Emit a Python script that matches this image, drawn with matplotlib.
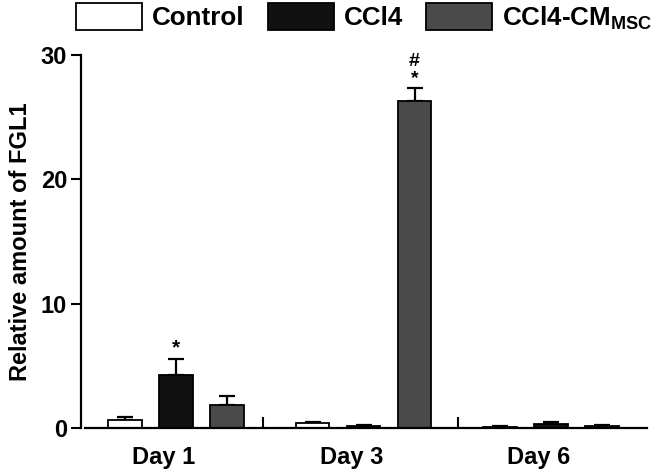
import numpy as np
import matplotlib
matplotlib.use('Agg')
import matplotlib.pyplot as plt

plt.rcParams['font.family'] = ['Liberation Sans', 'DejaVu Sans']
plt.rcParams['font.weight'] = 'bold'
plt.rcParams['mathtext.fontset'] = 'custom'
plt.rcParams['mathtext.rm'] = 'Liberation Sans:bold'
plt.rcParams['mathtext.bf'] = 'Liberation Sans:bold'

# data
days = ['Day 1', 'Day 3', 'Day 6']
groups = ['Control', 'CCl4', 'CCl4-CM$_{\\mathrm{MSC}}$']
control = [0.65, 0.37, 0.10]
control_err = [0.20, 0.08, 0.05]
ccl4 = [4.27, 0.20, 0.30]
ccl4_err = [1.29, 0.06, 0.15]
msc = [1.85, 26.3, 0.15]
msc_err = [0.73, 1.05, 0.10]
ytick_vals = [0, 10, 20, 30]

colors = ['white', '#111111', '#4a4a4a']

fig = plt.figure(figsize=(6.54, 4.74), dpi=100)
ax = fig.add_axes([81/654, 46/474, (647-81)/654, (428-55)/474])

x = np.arange(len(days))
w = 0.18
off = 0.272
handles = []
for i, (vals, errs) in enumerate([(control, control_err), (ccl4, ccl4_err), (msc, msc_err)]):
    pos = x + (i - 1) * off
    b = ax.bar(pos, vals, w, color=colors[i], edgecolor='black', linewidth=1.3,
               label=groups[i], zorder=2)
    ax.errorbar(pos, vals, yerr=[np.zeros(3), errs], fmt='none', ecolor='black',
                elinewidth=1.6, capsize=6, capthick=1.6, zorder=1)
    handles.append(b)

# significance marks
ax.text(x[0], ccl4[0] + ccl4_err[0] + 0.1, '*', ha='center', va='bottom', fontsize=15)
ax.text(x[1] + off, msc[1] + msc_err[1] + 0.1, '#\n*', ha='center', va='bottom',
        fontsize=14, linespacing=0.95)

ax.set_ylim(0, 30)
ax.set_xlim(-0.507, 2.512)
ax.set_yticks(ytick_vals)
ax.set_yticklabels([str(v) for v in ytick_vals], fontsize=17, fontweight='bold')
ax.set_xticks(x - 0.065)
ax.set_xticklabels(days, fontsize=17, fontweight='bold')
ax.tick_params(axis='x', which='major', length=0, pad=13)
ax.set_xticks([0.464, 1.504], minor=True)
ax.tick_params(axis='x', which='minor', direction='in', length=8, width=1.5)
ax.tick_params(axis='y', direction='out', length=7, width=1.5, pad=3)

ax.spines['top'].set_visible(False)
ax.spines['right'].set_visible(False)
ax.spines['left'].set_linewidth(1.6)
ax.spines['bottom'].set_linewidth(1.6)
ax.spines['bottom'].set_bounds(-0.485, 2.512)
ax.spines['left'].set_bounds(0, 30)

ax.set_ylabel('Relative amount of FGL1', fontsize=17, fontweight='bold', labelpad=6)

leg = fig.legend(handles=handles, labels=groups, loc='upper left',
                 bbox_to_anchor=(76/654, 1 - 3/474), ncol=3, frameon=False,
                 fontsize=18.7, handlelength=2.54, handleheight=1.2,
                 handletextpad=0.38, columnspacing=0.9, borderpad=0,
                 borderaxespad=0)

fig.savefig('out.png', dpi=100)
